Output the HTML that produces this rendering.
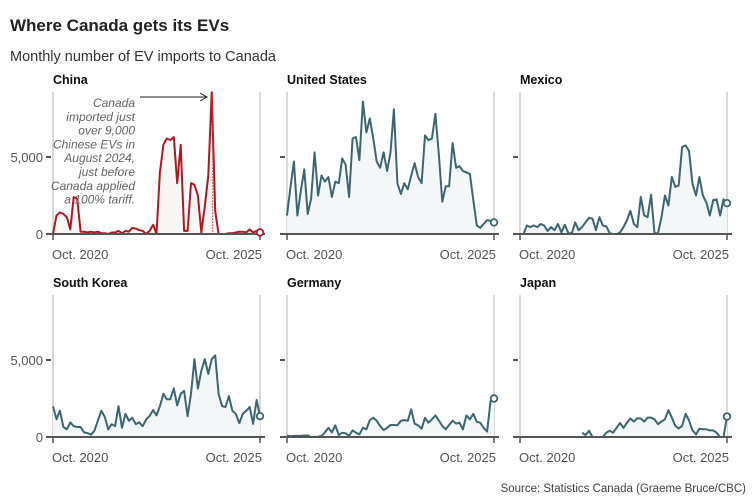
<!DOCTYPE html>
<html><head><meta charset="utf-8">
<style>
body{margin:0;background:#fff;font-family:"Liberation Sans",sans-serif;}
svg{display:block}
</style></head><body>
<svg id="chart" width="756" height="499" viewBox="0 0 756 499">
<text x="10" y="31" font-size="17" font-weight="bold" fill="#222">Where Canada gets its EVs</text>
<text x="10" y="61" font-size="14.5" fill="#333">Monthly number of EV imports to Canada</text>
<text x="746" y="492" font-size="11.5" fill="#444" text-anchor="end">Source: Statistics Canada (Graeme Bruce/CBC)</text>
<g id="panels"></g>
</svg>
<script>
const countries = ["China","United States","Mexico","South Korea","Germany","Japan"];
const xTickLabels = ["Oct. 2020","Oct. 2025"];
const yTickValues = [0,5000];
const yTickLabels = ["0","5,000"];
const china = [0,1200,1400,1300,1100,300,2400,2300,150,150,100,150,100,150,50,50,0,100,100,200,50,200,150,400,350,250,200,0,200,600,0,4000,5800,6200,6100,6300,3300,5800,200,200,3300,3200,2500,100,1800,3800,9200,1500,0,0,0,50,50,100,150,150,100,300,100,200,100];
const unitedStates = [1200,3000,4700,1200,2800,4200,1300,2300,5300,2500,3800,3400,3700,2400,3400,3300,4900,4500,2400,6200,6300,4800,8600,6600,7500,6200,4700,4300,5300,4100,5300,8100,3300,2600,3300,2900,3800,4600,3700,3300,6400,6100,6200,7800,5200,2100,3100,3100,5900,4300,4400,4100,4000,3900,2200,550,400,650,900,850,750];
const mexico = [0,0,550,450,550,450,650,550,200,450,250,650,100,600,50,50,750,250,450,750,1050,1000,250,1100,550,500,50,0,0,100,450,900,1500,650,450,2400,1200,1100,2550,50,50,1100,2500,1850,3700,3050,3150,5650,5750,5400,3250,2500,3700,2500,2050,1200,2200,2250,1200,2250,2000];
const southKorea = [2000,1150,1700,650,500,950,700,650,650,300,250,150,400,1050,1700,1300,500,830,700,2000,600,1500,1050,1250,830,950,700,1150,1370,1750,1400,2000,2800,2450,2450,3150,2050,2800,3000,1350,2800,5050,3150,4300,5050,4100,5050,5300,2800,2000,1950,2650,1700,1500,900,1500,1700,1950,850,2400,1350];
const germany = [100,50,70,70,70,100,100,0,0,20,70,300,600,300,750,130,280,240,70,430,280,170,600,500,1100,1250,1050,720,450,600,780,780,760,1050,1100,1050,1800,870,760,540,1250,930,1150,1400,1080,720,500,780,1050,870,930,500,1400,1150,1500,980,930,600,350,2350,2500];
const japan = [null,null,null,null,null,null,null,null,null,null,null,null,null,null,null,null,null,null,280,130,400,0,0,0,0,280,400,280,600,900,600,930,1200,1000,1220,1200,1000,1260,1260,1150,830,1000,1150,1750,1260,720,560,720,1500,1080,430,170,540,500,500,430,430,280,0,0,1330];
const series = [china,unitedStates,mexico,southKorea,germany,japan];

const NS="http://www.w3.org/2000/svg";
const root=document.getElementById('panels');
function mk(tag,attrs,parent){const e=document.createElementNS(NS,tag);for(const k in attrs)e.setAttribute(k,attrs[k]);(parent||root).appendChild(e);return e;}
const colX0=[53,287,520], colX1=[260,494,727], rowZero=[234,437];
const pxPerUnit=(234-157)/5000;

countries.forEach((name,p)=>{
  const col=p%3,row=Math.floor(p/3);
  const x0=colX0[col],x1=colX1[col],y0=rowZero[row];
  const data=series[p];
  const n=data.length;
  const xs=i=>x0+(x1-x0)*i/(n-1);
  const ys=v=>y0-v*pxPerUnit;
  const top=y0-142;
  const isChina=p===0;
  const col1=isChina?"#b01822":"#3e6670";
  const g=mk('g',{});
  
  
  const t=mk('text',{x:x0,y:top-8,'font-size':12.5,'font-weight':'bold',fill:'#111'},g);
  t.textContent=name;
  
  
  [x0,x1].forEach(x=>{const l=mk('line',{x1:x,x2:x,y1:top,y2:y0,stroke:'#b5b5b5','stroke-width':1},g);
    
    });
  yTickValues.forEach((v,k)=>{
    const tk=mk('line',{x1:x0-7,x2:x0-2,y1:ys(v),y2:ys(v),stroke:'#555','stroke-width':2},g);
    
    
    if(col===0){const lb=mk('text',{x:x0-10,y:ys(v)+5,'font-size':13,fill:'#555','text-anchor':'end'},g);
      lb.textContent=yTickLabels[k];
      
      }
  });
  let segs=[],cur=[];
  data.forEach((v,i)=>{if(v===null){if(cur.length)segs.push(cur);cur=[];}else cur.push([xs(i),ys(v)]);});
  if(cur.length)segs.push(cur);
  segs.forEach(s=>{
    const d=s.map((q,i)=>(i?'L':'M')+q[0].toFixed(1)+','+q[1].toFixed(1)).join('');
    const a=mk('path',{d:d+'L'+s[s.length-1][0].toFixed(1)+','+y0+'L'+s[0][0].toFixed(1)+','+y0+'Z',fill:isChina?'#f9f6f6':'#f4f7f7'},g);
    
    
    const l=mk('path',{d:d,fill:'none',stroke:col1,'stroke-width':2,'stroke-linejoin':'round'},g);
    
    
  });
  const base=mk('line',{x1:x0-4,x2:x1+5,y1:y0,y2:y0,stroke:'#555','stroke-width':2},g);
  
  
  [x0,x1].forEach((x,k)=>{
    const tk=mk('line',{x1:x,x2:x,y1:y0,y2:y0+6,stroke:'#555','stroke-width':1.5},g);
    
    
    const lb=mk('text',{x:k?x+2:x-1,y:y0+25,'font-size':13,fill:'#555','text-anchor':k?'end':'start'},g);
    lb.textContent=xTickLabels[k];
    
    
  });
  const last=data[n-1];
  const c=mk('circle',{cx:xs(n-1),cy:ys(last),r:3.3,fill:'#fff',stroke:col1,'stroke-width':1.8},g);
  
  
  if(isChina){
    const pi=data.indexOf(Math.max(...data));
    const vl=mk('line',{x1:xs(pi)+1,x2:xs(pi)+1,y1:ys(data[pi]),y2:y0,stroke:'#d04040','stroke-width':1,'stroke-dasharray':'1.5,1.5'},g);
    
    
    const ar=mk('line',{x1:140,x2:206,y1:97,y2:97,stroke:'#222','stroke-width':1},g);
    
    
    const ah=mk('path',{d:'M200,93L207,97L200,101',fill:'none',stroke:'#222','stroke-width':1},g);
    
    
    const lines=["Canada","imported just","over 9,000","Chinese EVs in","August 2024,","just before","Canada applied","a 100% tariff."];
    const at=mk('text',{'font-size':12,'font-style':'italic',fill:'#666','text-anchor':'end'},g);
    
    
    lines.forEach((s,k)=>{const ts=mk('tspan',{x:135,y:107+k*13.8},at);ts.textContent=s;});
  }
});
</script>
</body></html>
